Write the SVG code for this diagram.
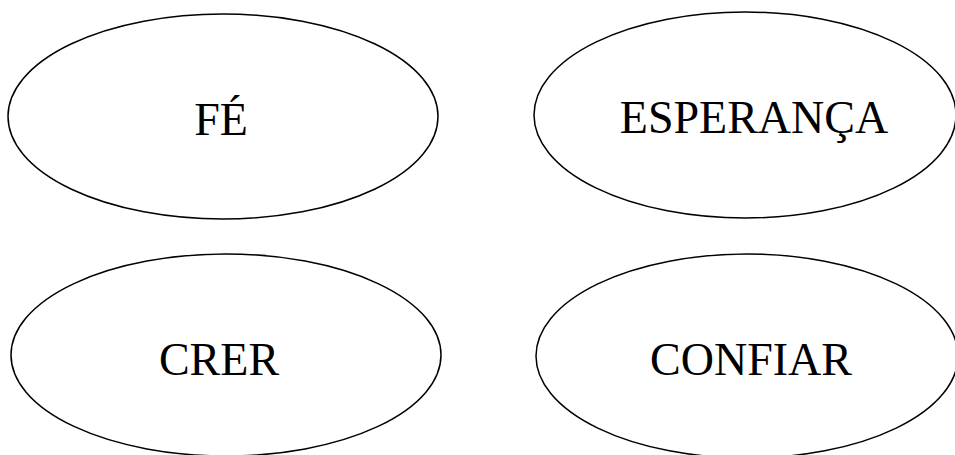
<svg xmlns="http://www.w3.org/2000/svg" width="955" height="455" viewBox="0 0 955 455">
<style>
.n ellipse{fill:#fff;stroke:#000;stroke-width:1.5}
.n text{font-family:"Liberation Serif","Times New Roman",serif;font-size:46px;fill:#000;text-anchor:middle}
</style>
<rect width="955" height="455" fill="#fff"/>
<g id="connectors"></g>
<g id="fe" class="n"><ellipse cx="223" cy="116.5" rx="215" ry="102.5"/><text x="221" y="135">FÉ</text></g>
<g id="esperanca" class="n"><ellipse cx="745" cy="115" rx="211" ry="103"/><text x="754" y="133">ESPERANÇA</text></g>
<g id="crer" class="n"><ellipse cx="226" cy="355" rx="215" ry="101"/><text x="219" y="375">CRER</text></g>
<g id="confiar" class="n"><ellipse cx="747" cy="356" rx="211" ry="102"/><text x="751" y="375">CONFIAR</text></g>
</svg>
